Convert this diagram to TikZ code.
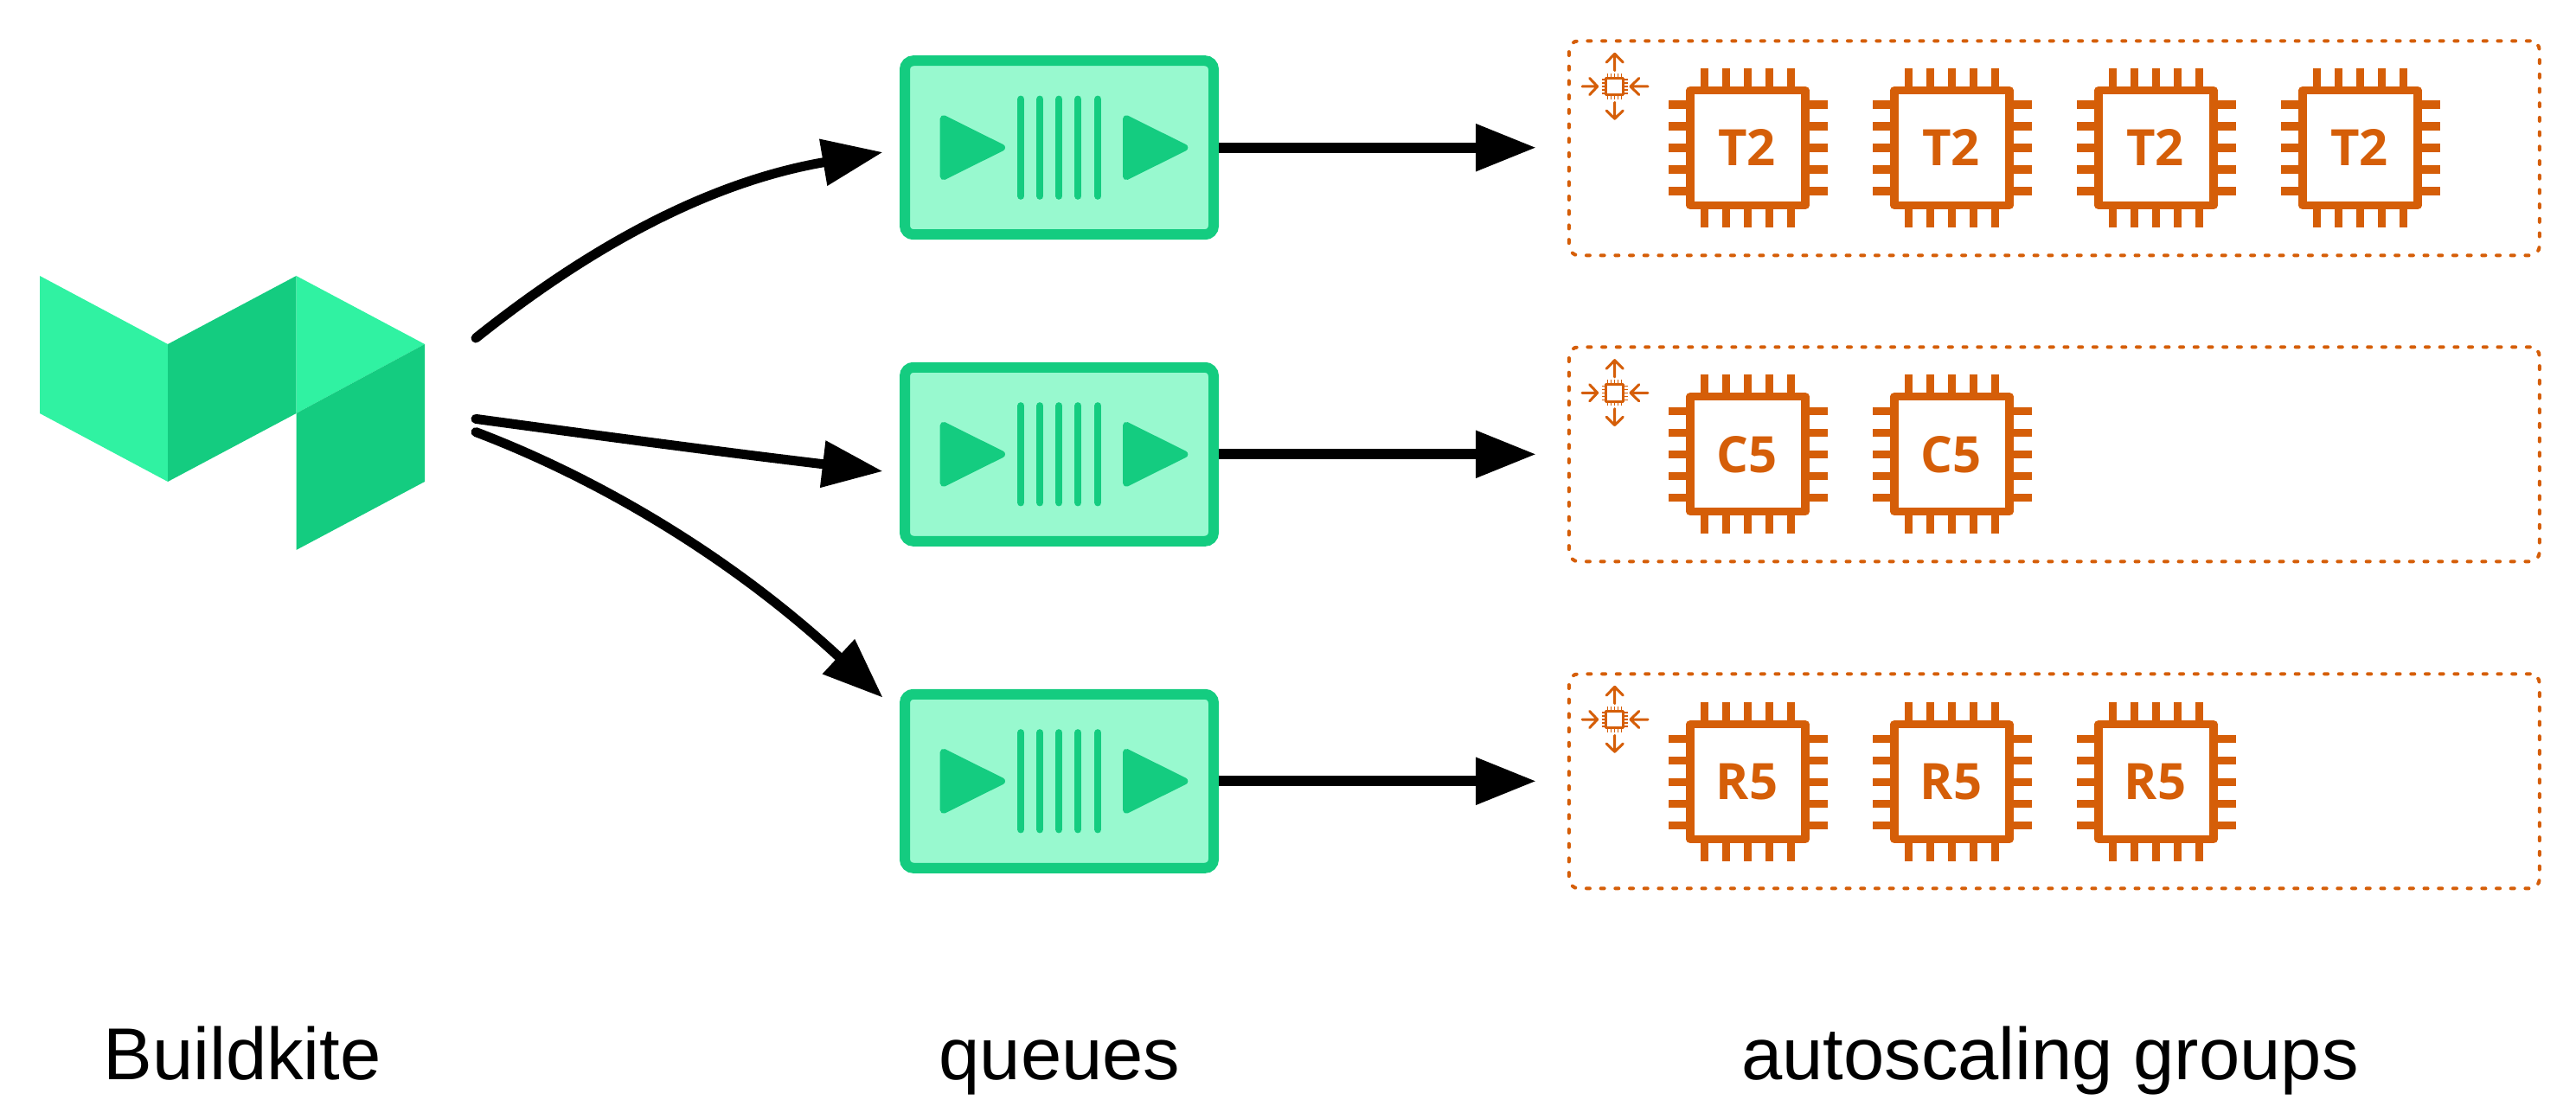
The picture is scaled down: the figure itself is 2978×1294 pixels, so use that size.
\documentclass[tikz,border=0pt]{standalone}
\usepackage{fontspec}
\setmainfont{Liberation Sans}
\newfontfamily\chipfont{Open Sans}
\usetikzlibrary{arrows.meta}
\definecolor{kiteLight}{HTML}{30F2A2}
\definecolor{kiteDark}{HTML}{14CC80}
\definecolor{kiteFill}{HTML}{98F9CF}
\definecolor{awsOrange}{HTML}{D55E08}
\tikzset{
  x=0.5pt,y=-0.5pt,
  queuebox/.style={draw=kiteDark,fill=kiteFill,line width=6pt,rounded corners=5pt,minimum width=178.5pt,minimum height=100.5pt,inner sep=0pt},
  groupbox/.style={draw=awsOrange,line width=2pt,dash pattern=on 2pt off 6.35pt,line cap=round,rounded corners=5.5pt,minimum width=561pt,minimum height=124pt,inner sep=0pt},
  caption/.style={anchor=base,inner sep=0pt,font=\fontsize{42.5pt}{50pt}\selectfont},
  chiplabel/.style={inner sep=0pt,text=awsOrange,font=\chipfont\bfseries\fontsize{29pt}{34pt}\selectfont},
  flow/.style={draw=black,line width=5.5pt,line cap=round,-{Triangle[length=35pt,width=26pt]}},
  outflow/.style={draw=black,line width=6pt,-{Triangle[length=35pt,width=26pt]}},
  chipicon/.pic={
    \draw[awsOrange,line width=4.65pt,line join=round] (-66.5,-66.5) rectangle (66.5,66.5);
    \foreach \d in {-50,-25,0,25,50}{
      \draw[awsOrange,line width=4.65pt] (\d,-70) -- (\d,-92);
      \draw[awsOrange,line width=4.65pt] (\d,70) -- (\d,92);
      \draw[awsOrange,line width=4.65pt] (-70,\d) -- (-92,\d);
      \draw[awsOrange,line width=4.65pt] (70,\d) -- (92,\d);
    }
    \node[chiplabel] at (-1,0) {#1};
  },
  scaleicon/.pic={
    \draw[awsOrange,line width=1.5pt,line join=round] (-9.8,-9.8) rectangle (9.8,9.8);
    \foreach \d in {-8,-4,0,4,8}{
      \draw[awsOrange,line width=0.75pt] (\d,-11) -- (\d,-15);
      \draw[awsOrange,line width=0.75pt] (\d,11) -- (\d,15);
      \draw[awsOrange,line width=0.75pt] (-11,\d) -- (-15,\d);
      \draw[awsOrange,line width=0.75pt] (11,\d) -- (15,\d);
    }
    \draw[awsOrange,line width=1.5pt,line cap=round,line join=round]
      (0,-18.3) -- (0,-37.7) (-9.5,-28) -- (0,-37.7) -- (9.5,-28)
      (0,18.3) -- (0,37.3) (-9.5,28) -- (0,37.3) -- (9.5,28)
      (-37.7,0) -- (-20,0) (-29,-9.5) -- (-20,0) -- (-29,9.5)
      (38.3,0) -- (18.3,0) (28,-9.5) -- (18.3,0) -- (28,9.5);
  },
  queueicon/.pic={
    \foreach \tx in {-133.8,77.5}{
      \fill[kiteDark,draw=kiteDark,line width=4pt,line join=round] (\tx,-33.5) -- ({\tx+67.3},0) -- (\tx,33.5) -- cycle;
    }
    \foreach \bx in {-44.2,-22.2,-0.2,21.8,44.8}{
      \draw[kiteDark,line width=4.15pt,line cap=round] (\bx,-56) -- (\bx,56);
    }
  }
}
\begin{document}
\begin{tikzpicture}
\useasboundingbox (0,0) rectangle (2978,1294);
% logo
\fill[kiteLight] (46,319) -- (194,398) -- (194,557) -- (46,478) -- cycle;
\fill[kiteDark] (194,398) -- (342.5,319) -- (342.5,478) -- (194,557) -- cycle;
\fill[kiteLight] (342.5,319) -- (491,398) -- (342.5,478) -- cycle;
\fill[kiteDark] (342.5,478) -- (491,398) -- (491,557) -- (342.5,636) -- cycle;
% queues
\node[queuebox] (q1) at (1224.5,170.7) {};
\node[queuebox] (q2) at (1224.5,525.3) {};
\node[queuebox] (q3) at (1224.5,903.3) {};
\pic at (1224.5,170.7) {queueicon};
\pic at (1224.5,525.3) {queueicon};
\pic at (1224.5,903.3) {queueicon};
% groups
\node[groupbox] (g1) at (2374.85,171.3) {};
\node[groupbox] (g2) at (2374.85,525.3) {};
\node[groupbox] (g3) at (2374.85,903.3) {};
\pic at (1866.7,100) {scaleicon};
\pic at (1866.7,454.3) {scaleicon};
\pic at (1866.7,832) {scaleicon};
\foreach \cx in {2020.5,2256.5,2492.5,2728.5}{\pic at (\cx,171) {chipicon=T2};}
\foreach \cx in {2020.5,2256.5}{\pic at (\cx,525.3) {chipicon=C5};}
\foreach \cx in {2020.5,2256.5,2492.5}{\pic at (\cx,904.3) {chipicon=R5};}
% connector ends
\coordinate (s1) at (550,391);
\coordinate (s2) at (550,484.4);
\coordinate (s3) at (550,499.6);
\coordinate (t1) at (1020.7,176);
\coordinate (t2) at (1020.7,545);
\coordinate (t3) at (1020.7,806.8);
\coordinate (o1) at (1776,170.7);
\coordinate (o2) at (1776,525.3);
\coordinate (o3) at (1776,903.3);
\draw[flow] (s1) .. controls (670,295) and (810,212) .. (t1);
\draw[flow] (s2) .. controls (680,502) and (820,521) .. (t2);
\draw[flow] (s3) .. controls (670,545) and (830,630) .. (t3);
\draw[outflow] (q1.east) -- (o1);
\draw[outflow] (q2.east) -- (o2);
\draw[outflow] (q3.east) -- (o3);
% captions
\node[caption] (capb) at (280,1248) {Buildkite};
\node[caption] (capq) at (1225,1248) {queues};
\node[caption] (capg) at (2370,1248) {autoscaling groups};
\end{tikzpicture}
\end{document}
